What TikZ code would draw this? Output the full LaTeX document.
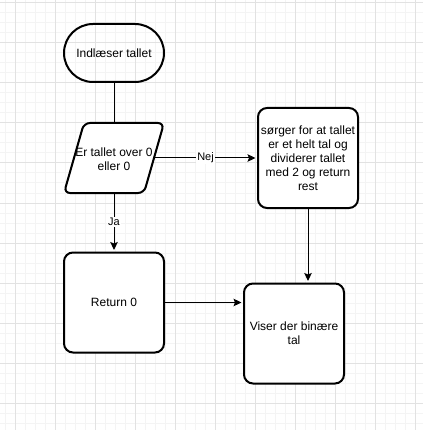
\documentclass[tikz,border=0pt]{standalone}
\usepackage{fontspec}
\setmainfont{Liberation Sans}
\usetikzlibrary{arrows.meta}
\definecolor{gridminor}{HTML}{F4F4F4}
\definecolor{gridmajor}{HTML}{E2E2E2}
\tikzset{
  box/.style={draw=black, line width=2pt, rounded corners=9pt, minimum width=100pt, minimum height=100pt, inner sep=0pt, align=center, font=\fontsize{12}{14}\selectfont},
  term/.style={draw=black, line width=2pt, rounded corners=29pt, minimum width=100pt, minimum height=58pt, inner sep=0pt, align=center, font=\fontsize{12}{14}\selectfont},
  plain/.style={inner sep=0pt, align=center, font=\fontsize{12}{14}\selectfont},
  conn/.style={draw=black, line width=1pt},
  arr/.style={conn, -{Stealth[length=8pt, width=7.5pt, inset=1.5pt]}, shorten >=1.5pt},
  lbl/.style={fill=white, inner sep=1pt, font=\fontsize{11}{13}\selectfont},
}
\begin{document}
\begin{tikzpicture}[x=1pt, y=-1pt]
\useasboundingbox (0,0) rectangle (423,430);
\fill[white] (0,0) rectangle (423,430);
% grid
\foreach \x in {5,15,...,420} \draw[gridminor, line width=1pt] (\x,0) -- (\x,430);
\foreach \y in {3,13,...,430} \draw[gridminor, line width=1pt] (0,\y) -- (423,\y);
\foreach \x in {15,55,...,420} \draw[gridmajor, line width=1pt] (\x,0) -- (\x,430);
\foreach \y in {3,43,...,430} \draw[gridmajor, line width=1pt] (0,\y) -- (423,\y);

% start terminator
\node[term] (start) at (114,53) {Indlæser tallet};

% decision parallelogram
\filldraw[fill=white, draw=black, line width=2pt, rounded corners=6pt]
  (64,193) -- (84,123) -- (164,123) -- (144,193) -- cycle;
\coordinate (dectop) at (114,123);
\coordinate (decright) at (154,158);
\coordinate (decbot) at (114,193);
\node[plain] (dec) at (114,159) {Er tallet over 0\\eller 0};

% process boxes
\node[box, fill=white] (sorg) at (308,158) {sørger for at tallet\\er et helt tal og\\dividerer tallet\\med 2 og return\\rest};
\node[box, fill=white] (ret) at (114,302.5) {Return 0};
\node[box, fill=white] (vis) at (294,333.5) {Viser der binære\\tal};

% connectors
\draw[conn] (start.south) -- (dectop);
\draw[arr] (decright) -- node[lbl] (nej) {Nej} (sorg.west);
\draw[arr] (decbot) -- node[lbl, pos=0.5] (ja) {Ja} (ret.north);
\draw[arr] (ret.east) -- (ret.east -| vis.west);
\draw[arr] (sorg.south) -- (sorg.south |- vis.north);
\end{tikzpicture}
\end{document}
